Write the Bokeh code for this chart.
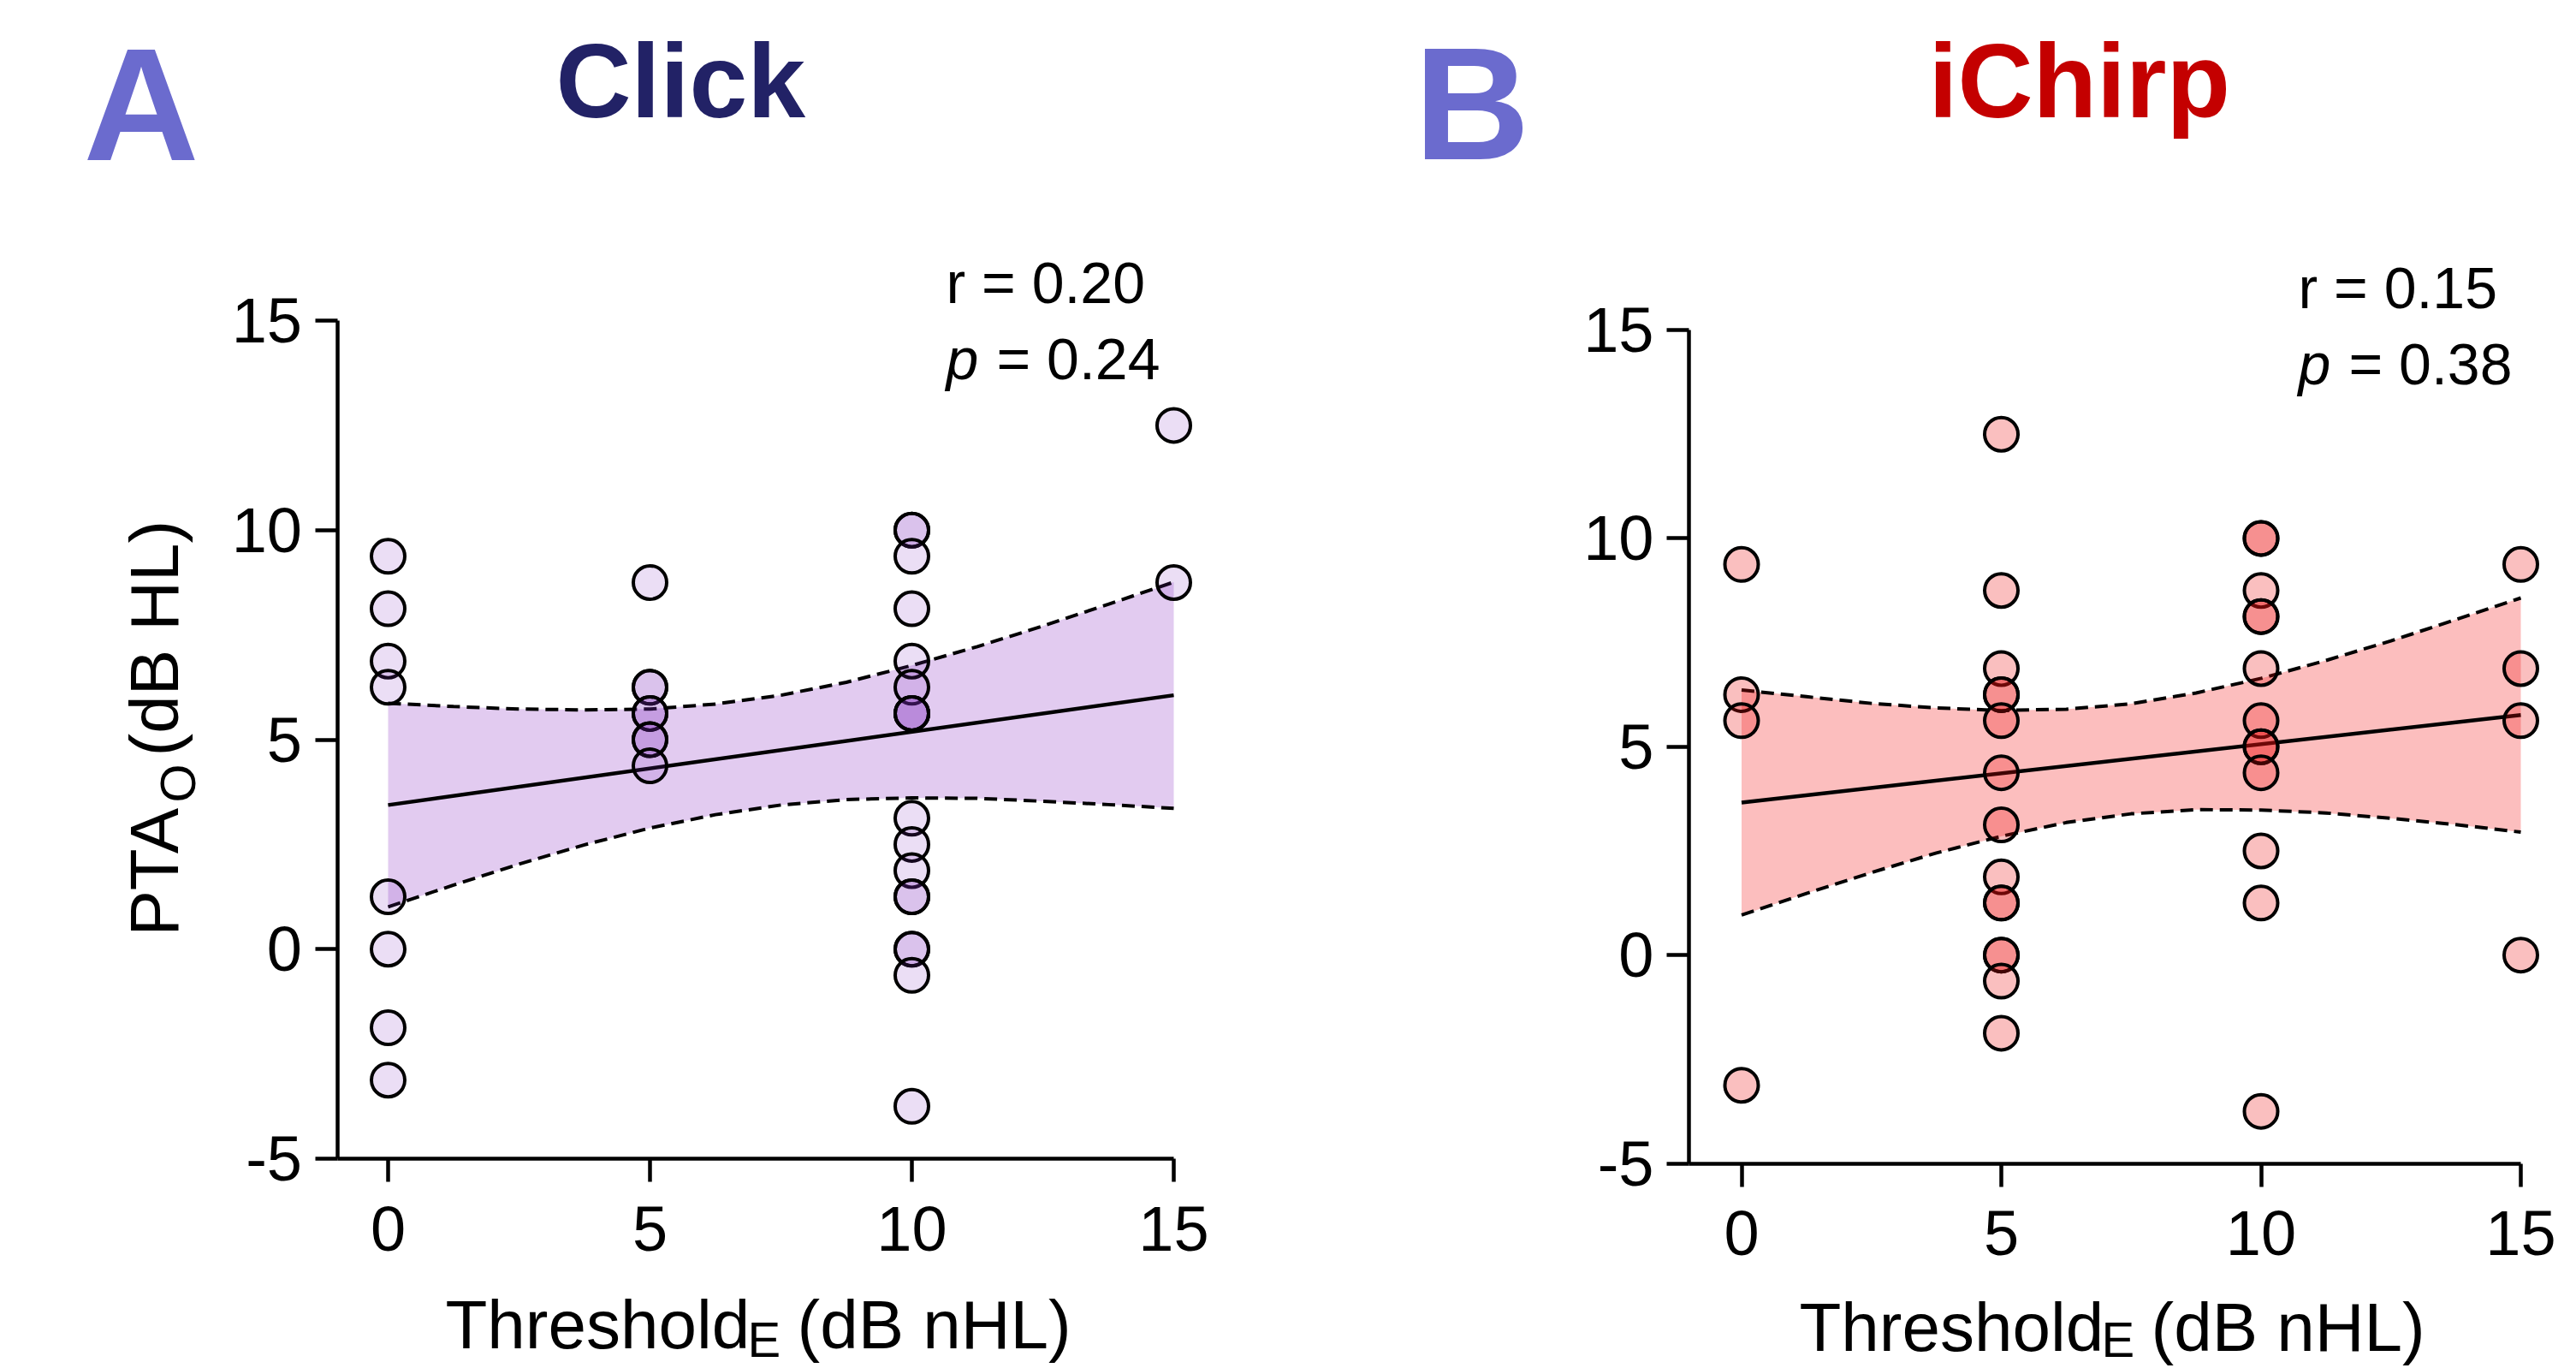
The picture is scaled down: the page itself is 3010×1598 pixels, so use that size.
import math
from bokeh.plotting import figure
from bokeh.models import Range1d, LinearAxis, FixedTicker, Label
from bokeh.layouts import row
from bokeh.embed import file_html
from bokeh.resources import INLINE

# ---------------- data ----------------
x_ticks = [0, 5, 10, 15]
y_ticks = [-5, 0, 5, 10, 15]

click_x = [0, 0, 0, 0, 0, 0, 0, 0,
           5, 5, 5, 5, 5, 5, 5, 5,
           10, 10, 10, 10, 10, 10, 10, 10, 10, 10, 10, 10, 10, 10, 10, 10, 10, 10,
           15, 15]
click_y = [9.375, 8.125, 6.875, 6.25, 1.25, 0, -1.875, -3.125,
           8.75, 6.25, 6.25, 5.625, 5.625, 5.0, 5.0, 4.375,
           10, 10, 9.375, 8.125, 6.875, 6.25, 5.625, 5.625, 5.625, 3.125, 2.5, 1.875, 1.25, 1.25, 0, 0, -0.625, -3.75,
           12.5, 8.75]

chirp_x = [0, 0, 0, 0,
           5, 5, 5, 5, 5, 5, 5, 5, 5, 5, 5, 5, 5, 5, 5,
           10, 10, 10, 10, 10, 10, 10, 10, 10, 10, 10, 10, 10,
           15, 15, 15, 15]
chirp_y = [9.375, 6.25, 5.625, -3.125,
           12.5, 8.75, 6.875, 6.25, 6.25, 5.625, 4.375, 3.125, 1.875, 1.25, 1.25, 0, 0, -0.625, -1.875,
           10, 10, 8.75, 8.125, 8.125, 6.875, 5.625, 5.0, 5.0, 4.375, 2.5, 1.25, -3.75,
           9.375, 6.875, 5.625, 0]

band_x = [0, 1.25, 2.5, 3.75, 5, 6.25, 7.5, 8.75, 10, 11.25, 12.5, 13.75, 15]
click_upper = [5.87, 5.79, 5.73, 5.71, 5.73, 5.85, 6.06, 6.37, 6.77, 7.22, 7.71, 8.23, 8.76]
click_lower = [1.01, 1.53, 2.03, 2.49, 2.89, 3.21, 3.44, 3.57, 3.61, 3.60, 3.53, 3.45, 3.36]
chirp_upper = [6.36, 6.20, 6.04, 5.93, 5.87, 5.90, 6.03, 6.29, 6.64, 7.07, 7.54, 8.05, 8.57]
chirp_lower = [0.96, 1.48, 1.98, 2.45, 2.85, 3.18, 3.39, 3.49, 3.48, 3.41, 3.28, 3.13, 2.95]

fit_x = [0, 15]
click_fit = [3.44, 6.06]
chirp_fit = [3.66, 5.76]

click_stats = ["r = 0.20", "= 0.24"]
chirp_stats = ["r = 0.15", "= 0.38"]

FONT = "Liberation Sans"
H = 1598
K = 0.35  # baseline correction (fraction of font size)


def make_panel(W, X0, SX, YM5, SY, yaxis_x, letter, letter_pos, title, title_pos, title_color,
               px, py, fit_y, up, lo, fill, alpha, band_color, stats, stats_pos, xlab_pos, ylab):
    def dx(p):
        return (p - X0) / SX

    def dy(p):
        return -5 + (YM5 - p) / SY

    f = figure(width=W, height=H, x_range=Range1d(dx(0), dx(W)), y_range=Range1d(dy(H), dy(0)),
               output_backend="svg", toolbar_location=None, x_axis_location=None, y_axis_location=None,
               min_border=0, outline_line_color=None, background_fill_color="white",
               border_fill_color="white")
    f.xgrid.grid_line_color = None
    f.ygrid.grid_line_color = None

    overrides = {t: str(t) for t in y_ticks}
    xa = LinearAxis(fixed_location=-5, bounds=(yaxis_x, 15), ticker=FixedTicker(ticks=x_ticks))
    ya = LinearAxis(fixed_location=yaxis_x, bounds=(-5, 15), ticker=FixedTicker(ticks=y_ticks),
                    major_label_overrides=overrides)
    for ax in (xa, ya):
        ax.axis_line_width = 4.5
        ax.axis_line_color = "black"
        ax.major_tick_line_width = 4.5
        ax.major_tick_line_color = "black"
        ax.major_tick_in = 0
        ax.minor_tick_out = 0
        ax.minor_tick_in = 0
        ax.major_label_text_font = FONT
        ax.major_label_text_font_size = "74px"
        ax.major_label_text_color = "black"
    xa.major_tick_out = 27
    ya.major_tick_out = 26
    xa.major_label_standoff = 29
    ya.major_label_standoff = 15
    f.add_layout(xa, "below")
    f.add_layout(ya, "left")

    f.varea(x=band_x, y1=lo, y2=up, fill_color=band_color, fill_alpha=1.0)
    f.line(band_x, up, line_color="black", line_width=4, line_dash="15 8")
    f.line(band_x, lo, line_color="black", line_width=4, line_dash="15 8")
    f.line(fit_x, fit_y, line_color="black", line_width=4.5)
    f.scatter(px, py, size=39, fill_color=fill, fill_alpha=alpha, line_color="black", line_width=4)

    def lab(text, x, base, size, style="normal", color="black"):
        y = base - K * size
        f.add_layout(Label(x=dx(x), y=dy(y), text=text, text_font=FONT, text_font_size=f"{size}px",
                           text_font_style=style, text_color=color, text_align="left",
                           text_baseline="alphabetic"))

    def vlab(text, base_x, y, size):
        x = base_x - K * size
        f.add_layout(Label(x=dx(x), y=dy(y), text=text, text_font=FONT, text_font_size=f"{size}px",
                           text_color="black", text_align="left", text_baseline="alphabetic",
                           angle=math.pi / 2))

    lab(letter, letter_pos[0], letter_pos[1], 187, "bold", "#6b6bce")
    lab(title, title_pos[0], title_pos[1], 122, "bold", title_color)
    sx, sy = stats_pos
    lab(stats[0], sx, sy, 68)
    lab("p", sx, sy + 89, 68, "italic")
    lab(stats[1], sx + 59, sy + 89, 68)

    tx, ty = xlab_pos
    lab("Threshold", tx, ty, 80)
    lab("E", tx + 353, 1584, 58)
    lab("(dB nHL)", tx + 411, ty, 80)

    if ylab:
        vlab("PTA", 208, 1093, 80)
        vlab("O", 227, 937, 58)
        vlab("(dB HL)", 208, 883, 80)
    return f


pA = make_panel(1508, 453, 61.2, 1353, 48.95, -0.972, "A", (97, 187), "Click", (649, 137), "#222266",
                click_x, click_y, click_fit, click_upper, click_lower, "#8232c3", 0.16, "#e2cbf0",
                click_stats, (1105, 353), (520, 1575), True)
pB = make_panel(1502, 526.5, 60.7, 1358.5, 48.675, -1.013, "B", (144, 186), "iChirp", (745, 137), "#c40000",
                chirp_x, chirp_y, chirp_fit, chirp_upper, chirp_lower, "#eb1414", 0.27, "#fcbebe",
                chirp_stats, (1177, 359), (594, 1578), False)

layout = row(pA, pB)
open("out.html", "w").write(file_html(layout, INLINE))
